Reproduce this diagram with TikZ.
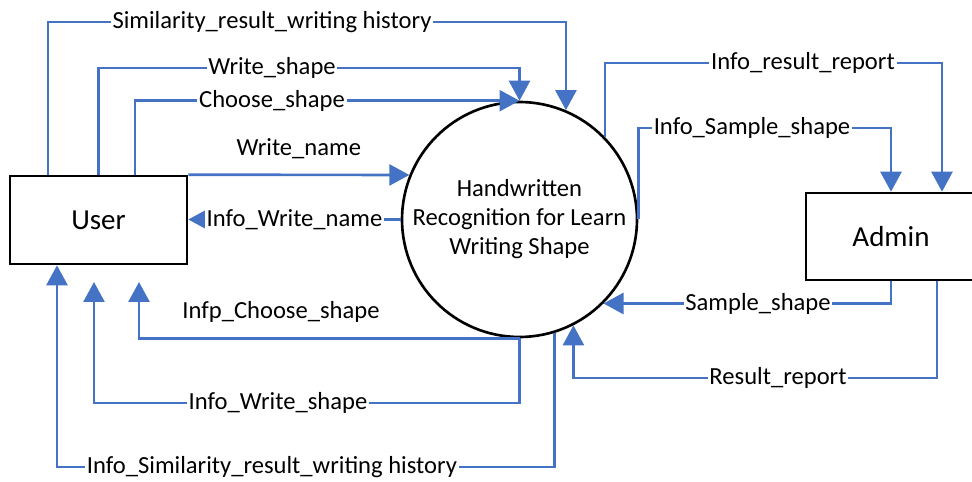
\documentclass[tikz,border=0pt]{standalone}
\usepackage{fontspec}
\setmainfont{Carlito}
\usetikzlibrary{arrows.meta}
\definecolor{flowblue}{HTML}{4472C4}

\begin{document}
\begin{tikzpicture}[
		x=0.02cm, y=-0.02cm,
		entity/.style = {
			shape=rectangle, draw, line width=1.5pt,
			font=\fontsize{16.5}{20}\selectfont},
		process/.style = {
			shape=circle, draw, line width=1.5pt, inner sep=0pt,
			minimum size=4.7cm, align=center,
			font=\fontsize{14}{16.5}\selectfont},
		flow/.style = {
			draw=flowblue, line width=1.5pt,
			-{Triangle[length=0.4cm,width=0.42cm]}},
		lbl/.style = {
			fill=white, inner sep=1pt,
			font=\fontsize{14}{16}\selectfont},
		lbltop/.style = {
			lbl, yshift=0.53cm}]
		\useasboundingbox (0,0) rectangle (972,482);
		\clip (0,0) rectangle (972,482);

		\node[entity, minimum width=3.54cm, minimum height=1.76cm] (user) at (98.5,220) {User};
		\node[process] (proc) at (519.5,219.5) {Handwritten\\Recognition for Learn\\Writing Shape};
		\node[entity, minimum width=3.4cm, minimum height=1.74cm] (admin) at (891,236.5) {Admin};

		\coordinate (ics tip) at (139,282);
		\coordinate (iws tip) at (94,282);

		% user -> process
		\draw[flow] (48,0 |- user.north) |- (272,22) node[lbl] {Similarity\_result\_writing history} -| (proc.67);
		\draw[flow] (user.north) |- (272,68) node[lbl] {Write\_shape} -| (proc.north);
		\draw[flow] (135,0 |- user.north) |- (272,0 |- proc.north) node[lbl] {Choose\_shape} -- (proc.north);
		\draw[flow] (user.north east) -- node[lbltop] {Write\_name} (proc.158);

		% process -> user
		\draw[flow] (proc.west) -- node[lbl] {Info\_Write\_name} (proc.west -| user.east);
		\draw[flow] (proc.south) -- (281,0 |- proc.south) node[lbltop] {Infp\_Choose\_shape} -| (ics tip);
		\draw[flow] (proc.south) |- (278,403) node[lbl] {Info\_Write\_shape} -| (iws tip);
		\draw[flow] (proc.287.5) |- (272,467) node[lbl] {Info\_Similarity\_result\_writing history} -| (57,0 |- user.south);

		% process -> admin
		\draw[flow] (proc.44) |- (803,63) node[lbl] {Info\_result\_report} -| (942,0 |- admin.north);
		\draw[flow] (proc.east) |- (752,128) node[lbl] {Info\_Sample\_shape} -| (admin.north);

		% admin -> process
		\draw[flow] (admin.south) |- (758,0 |- proc.-45) node[lbl] {Sample\_shape} -- (proc.-45);
		\draw[flow] (937,0 |- admin.south) |- (778,378) node[lbl] {Result\_report} -| (proc.-63);
	\end{tikzpicture}
\end{document}
